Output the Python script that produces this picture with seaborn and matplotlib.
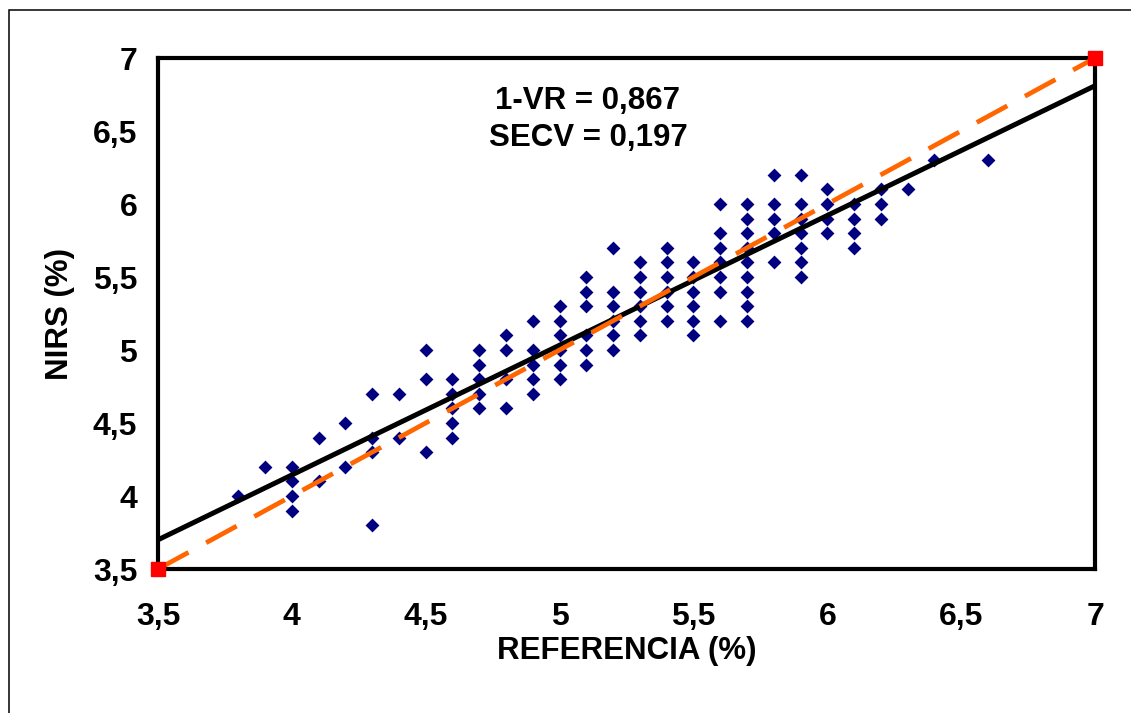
import numpy as np
import pandas as pd
import matplotlib
matplotlib.use("Agg")
import matplotlib.pyplot as plt
from matplotlib.patches import Rectangle
from matplotlib.ticker import FixedLocator, FixedFormatter
import seaborn as sns

# ---- data ----
referencia = [
    3.8, 3.9,
    4.0, 4.0, 4.0, 4.0,
    4.1, 4.1,
    4.2, 4.2,
    4.3, 4.3, 4.3, 4.3,
    4.4, 4.4,
    4.5, 4.5, 4.5,
    4.6, 4.6, 4.6, 4.6, 4.6,
    4.7, 4.7, 4.7, 4.7, 4.7,
    4.8, 4.8, 4.8, 4.8,
    4.9, 4.9, 4.9, 4.9, 4.9,
    5.0, 5.0, 5.0, 5.0, 5.0, 5.0,
    5.1, 5.1, 5.1, 5.1, 5.1, 5.1,
    5.2, 5.2, 5.2, 5.2, 5.2, 5.2,
    5.3, 5.3, 5.3, 5.3, 5.3, 5.3,
    5.4, 5.4, 5.4, 5.4, 5.4, 5.4,
    5.5, 5.5, 5.5, 5.5, 5.5, 5.5,
    5.6, 5.6, 5.6, 5.6, 5.6, 5.6, 5.6,
    5.7, 5.7, 5.7, 5.7, 5.7, 5.7, 5.7, 5.7, 5.7,
    5.8, 5.8, 5.8, 5.8, 5.8,
    5.9, 5.9, 5.9, 5.9, 5.9, 5.9, 5.9,
    6.0, 6.0, 6.0, 6.0,
    6.1, 6.1, 6.1, 6.1,
    6.2, 6.2, 6.2,
    6.3, 6.4, 6.6,
]
nirs = [
    4.0, 4.2,
    4.2, 4.1, 4.0, 3.9,
    4.4, 4.1,
    4.5, 4.2,
    4.7, 4.4, 4.3, 3.8,
    4.7, 4.4,
    5.0, 4.8, 4.3,
    4.8, 4.7, 4.6, 4.5, 4.4,
    5.0, 4.9, 4.8, 4.7, 4.6,
    5.1, 5.0, 4.8, 4.6,
    5.2, 5.0, 4.9, 4.8, 4.7,
    5.3, 5.2, 5.1, 5.0, 4.9, 4.8,
    5.5, 5.4, 5.3, 5.1, 5.0, 4.9,
    5.7, 5.4, 5.3, 5.2, 5.1, 5.0,
    5.6, 5.5, 5.4, 5.3, 5.2, 5.1,
    5.7, 5.6, 5.5, 5.4, 5.3, 5.2,
    5.6, 5.5, 5.4, 5.3, 5.2, 5.1,
    6.0, 5.8, 5.7, 5.6, 5.5, 5.4, 5.2,
    6.0, 5.9, 5.8, 5.7, 5.6, 5.5, 5.4, 5.3, 5.2,
    6.2, 6.0, 5.9, 5.8, 5.6,
    6.2, 6.0, 5.9, 5.8, 5.7, 5.6, 5.5,
    6.1, 6.0, 5.9, 5.8,
    6.0, 5.9, 5.8, 5.7,
    6.1, 6.0, 5.9,
    6.1, 6.3, 6.3,
]
fit_x = [3.5, 7.0]
fit_y = [3.70, 6.81]
ideal_x = [3.5, 7.0]
ideal_y = [3.5, 7.0]
tick_values = [3.5, 4.0, 4.5, 5.0, 5.5, 6.0, 6.5, 7.0]
tick_labels = ["3,5", "4", "4,5", "5", "5,5", "6", "6,5", "7"]
stats_lines = ["1-VR = 0,867", "SECV = 0,197"]
x_title = "REFERENCIA (%)"
y_title = "NIRS (%)"

# ---- style ----
sns.set_style("white")
plt.rcParams["font.family"] = ["Liberation Sans", "DejaVu Sans"]
plt.rcParams["font.weight"] = "bold"
plt.rcParams["lines.scale_dashes"] = False

FS = 22.5
TFS = 23
fig = plt.figure(figsize=(11.31, 7.13), dpi=100)
ax = fig.add_axes([158 / 1131, 1 - 569 / 713, (1095 - 158) / 1131, (569 - 58) / 713])

df = pd.DataFrame({"referencia": referencia, "nirs": nirs})
sns.scatterplot(data=df, x="referencia", y="nirs", marker="D", s=50,
                color="#000080", linewidth=0, ax=ax, zorder=3)

ax.plot(fit_x, fit_y, color="black", lw=3.6, solid_capstyle="butt", zorder=4)
ax.plot(ideal_x, ideal_y, color="#FF6600", lw=3.4, dashes=(25, 14.5),
        dash_capstyle="butt", zorder=5)
ax.plot(ideal_x, ideal_y, linestyle="none", marker="s", markersize=10,
        color="#FF0000", clip_on=False, zorder=10)

ax.set_xlim(3.5, 7.0)
ax.set_ylim(3.5, 7.0)
for axis in (ax.xaxis, ax.yaxis):
    axis.set_major_locator(FixedLocator(tick_values))
    axis.set_major_formatter(FixedFormatter(tick_labels))
ax.tick_params(axis="both", direction="out", length=7, width=1, color="black",
               labelsize=TFS, labelcolor="black")
ax.tick_params(axis="x", pad=17)
ax.tick_params(axis="y", pad=8)
for lab in ax.get_xticklabels() + ax.get_yticklabels():
    lab.set_fontweight("bold")

for sp in ax.spines.values():
    sp.set_visible(True)
    sp.set_color("black")
    sp.set_linewidth(3)

ax.set_xlabel(x_title, fontsize=FS, fontweight="bold", color="black")
ax.set_ylabel(y_title, fontsize=FS, fontweight="bold", color="black")
ax.xaxis.label.set_verticalalignment("center")
ax.yaxis.label.set_verticalalignment("center")
ax.xaxis.set_label_coords(0.5, -0.1600)
ax.yaxis.set_label_coords(-0.1050, 0.5)

ax.text(5.106, 6.651, stats_lines[0], ha="center", va="baseline",
        fontsize=FS, fontweight="bold", color="black", zorder=6)
ax.text(5.106, 6.397, stats_lines[1], ha="center", va="baseline",
        fontsize=FS, fontweight="bold", color="black", zorder=6)

# outer chart-area border (cut off on right/bottom in the reference)
fig.patches.append(Rectangle((9 / 1131, -0.2), 1.5, 1 - 10 / 713 + 0.2,
                             transform=fig.transFigure, fill=False,
                             edgecolor="black", linewidth=1.1))

fig.savefig("out.png", dpi=100, facecolor="white")
